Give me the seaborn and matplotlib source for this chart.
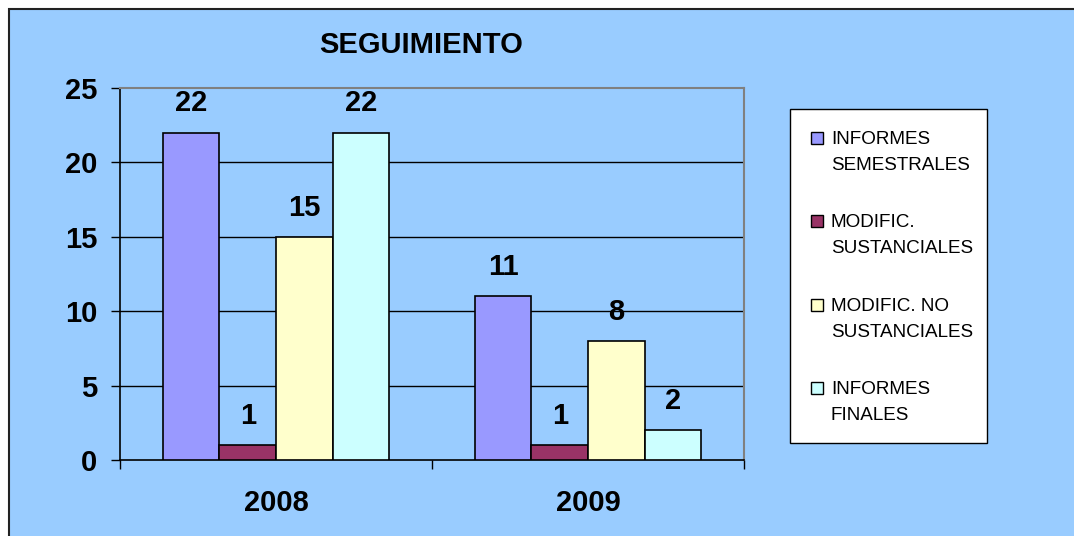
import matplotlib
matplotlib.use("Agg")
import matplotlib.pyplot as plt
import matplotlib.patches as mpatches
import seaborn as sns
import pandas as pd

years = ["2008", "2009"]
series = ["INFORMES\nSEMESTRALES", "MODIFIC.\nSUSTANCIALES", "MODIFIC. NO\nSUSTANCIALES", "INFORMES\nFINALES"]
informes_semestrales = [22, 11]
modific_sustanciales = [1, 1]
modific_no_sustanciales = [15, 8]
informes_finales = [22, 2]
colors = ["#9999FF", "#993366", "#FFFFCC", "#CCFFFF"]
title = "SEGUIMIENTO"

values = [informes_semestrales, modific_sustanciales, modific_no_sustanciales, informes_finales]
rows = []
for s, vals in zip(series, values):
    for y, v in zip(years, vals):
        rows.append({"year": y, "serie": s, "value": v})
df = pd.DataFrame(rows)

sns.set_theme(style="white")
plt.rcParams["font.family"] = ["Liberation Sans", "DejaVu Sans"]
plt.rcParams["text.color"] = "black"
plt.rcParams["xtick.color"] = "black"
plt.rcParams["ytick.color"] = "black"
plt.rcParams["xtick.labelcolor"] = "black"
plt.rcParams["ytick.labelcolor"] = "black"

W, H = 1074, 536
fig = plt.figure(figsize=(W / 100, H / 100), dpi=100)
fig.patch.set_facecolor("white")
bg = mpatches.Rectangle((9 / W, -0.5), 2, 1 - 9 / H + 0.5, transform=fig.transFigure,
                        facecolor="#99CCFF", edgecolor="#222222", linewidth=1.5, zorder=-10)
fig.patches.append(bg)

ax = fig.add_axes([120 / W, 1 - 460 / H, (744 - 120) / W, (460 - 88) / H])
ax.set_facecolor("#99CCFF")

sns.barplot(data=df, x="year", y="value", hue="serie", hue_order=series, order=years,
            palette=colors, edgecolor="black", linewidth=1.2, width=0.725, gap=0,
            saturation=1, ax=ax, legend=False, errorbar=None, zorder=3)

ax.set_ylim(0, 25)
ax.set_xlim(-0.5, 1.5)
ax.set_yticks([0, 5, 10, 15, 20, 25])
for yv in [5, 10, 15, 20]:
    ax.axhline(yv, color="black", linewidth=1, zorder=1)

for c in ax.containers:
    ax.bar_label(c, labels=[f"{int(v)}" for v in c.datavalues], padding=11,
                 fontsize=21, fontweight="bold", color="black")

ax.set_xlabel("")
ax.set_ylabel("")
for side in ["left", "bottom"]:
    ax.spines[side].set_color("black")
    ax.spines[side].set_linewidth(1.2)
for side in ["top", "right"]:
    ax.spines[side].set_color("#808080")
    ax.spines[side].set_linewidth(1.5)

ax.tick_params(axis="y", which="major", direction="out", length=6.5, width=1, color="black",
               left=True, pad=10, labelsize=21)
for lab in ax.get_yticklabels():
    lab.set_fontweight("bold")
ax.set_xticks([-0.5, 0.5, 1.5], minor=True)
ax.tick_params(axis="x", which="minor", direction="out", length=6.5, width=1, color="black", bottom=True)
ax.tick_params(axis="x", which="major", length=0, pad=21, labelsize=21)
for lab in ax.get_xticklabels():
    lab.set_fontweight("bold")

# Legend (drawn as a boxed key, markers aligned with first text line)
def fx(px):
    return px / W

def fy(py):
    return 1 - py / H

frame = mpatches.Rectangle((fx(790), fy(443)), fx(987) - fx(790), fy(109) - fy(443),
                           transform=fig.transFigure, facecolor="white", edgecolor="black",
                           linewidth=1, zorder=5)
fig.patches.append(frame)
step = 83.3
for i, (lab, col) in enumerate(zip(series, colors)):
    top = 132 + step * i
    sq = mpatches.Rectangle((fx(811), fy(top + 12)), fx(823) - fx(811), fy(top) - fy(top + 12),
                            transform=fig.transFigure, facecolor=col, edgecolor="black",
                            linewidth=1, zorder=6)
    fig.patches.append(sq)
    for j, line in enumerate(lab.split("\n")):
        fig.text(fx(831), fy(144 + step * i + 26 * j), line, ha="left", va="baseline",
                 fontsize=13.6, color="black", zorder=7)

fig.text(421 / W, 1 - 45 / H, title, ha="center", va="center", fontsize=21, fontweight="bold")

fig.savefig("out.png", dpi=100)
